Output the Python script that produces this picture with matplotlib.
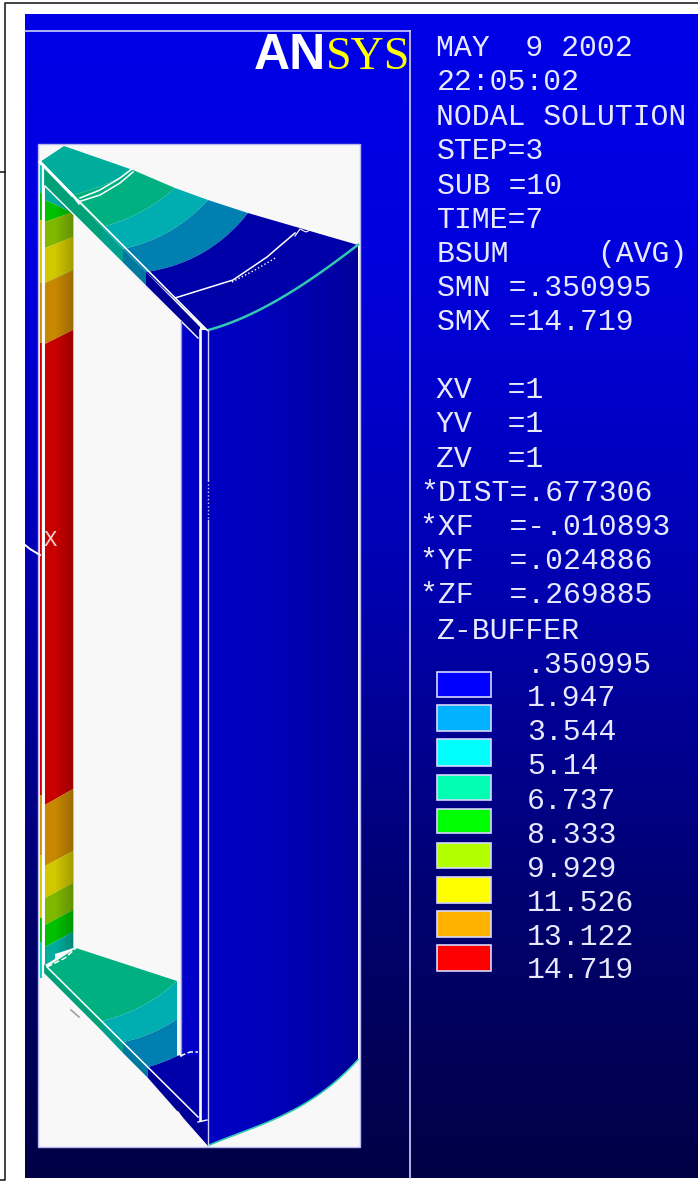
import matplotlib
matplotlib.use("Agg")
import matplotlib.pyplot as plt
import numpy as np

W, H = 698, 1181

# ---- legend / text data
legend_values = [".350995", "1.947", "3.544", "5.14", "6.737", "8.333", "9.929", "11.526", "13.122", "14.719"]
legend_colors = ["#0000ff", "#00b2ff", "#00ffff", "#00ffb2", "#00ff00", "#b2ff00", "#ffff00", "#ffb200", "#ff0000"]
legend_top = [672, 705, 739, 775, 809, 843, 877, 911, 945]
legend_bot = [697, 731, 766, 800, 833, 868, 903, 937, 971]
value_rows = [665, 698, 732, 766, 801, 835, 869, 903, 937, 970]

info_lines = ["MAY  9 2002", "22:05:02", "NODAL SOLUTION", "STEP=3", "SUB =10", "TIME=7", "BSUM     (AVG)",
              "SMN =.350995", "SMX =14.719", "XV  =1", "YV  =1", "ZV  =1",
              "*DIST=.677306", "*XF  =-.010893", "*YF  =.024886", "*ZF  =.269885", "Z-BUFFER"]
info_rows = [48, 82, 117, 151, 186, 220, 254, 288, 322, 390, 424, 459, 493, 527, 561, 595, 631]
info_x = [436, 437, 436, 437, 437, 437, 437, 437, 437, 436, 436, 436, 420, 420, 420, 420, 437]

# ---- contour bands of the left column: y at its left and right side
col_colors = ["#00ad9c", "#00c000", "#80b800", "#d0c800", "#c88800", "#c80000",
              "#c88800", "#d0c800", "#80b800", "#00c000", "#00ad9c"]
col_left = [187, 200, 222, 248, 283, 344, 805, 866, 898, 925, 947, 965]
col_right = [213, 213, 212, 237, 270, 330, 789, 851, 883, 910, 932, 948]

# thin strip left of the column
thin_colors = ["#00c8b0", "#00c000", "#d0c800", "#d09000", "#d00000", "#d09000", "#d0c800", "#00c000", "#00d0c0"]
thin_y = [165, 193, 220, 283, 343, 795, 855, 918, 942, 978]

# top plate fan: contour lines run from the top edge to the front edge
top_colors = ["#00ad9c", "#00b080", "#00adb0", "#0080b0", "#0000a8"]
top_outer = [(64, 146), (133, 170), (175, 188), (208, 200), (248, 213), (358, 245)]
top_inner = [(40, 162), (72, 195), (102, 227), (123, 249), (146, 272), (207, 330)]
top_bow = [0.0, 0.08, 0.12, 0.16, 0.2, 0.17]

# bevel strip under the top plate
strip_colors = ["#00a078", "#00a090", "#0078a0", "#000098"]
strip_x = [44, 102, 123, 146, 200]
strip_up = [166, 227, 249, 272, 327]
strip_lo = [186, 243, 264, 287, 340]

# bottom plate
bot_colors = ["#00b080", "#00adb0", "#0080b0", "#0000a8"]
bot_outer = [(76, 948), (177, 981), (177, 1019), (177, 1056), (198, 1050)]
bot_inner = [(47, 967), (102, 1021), (123, 1042), (148, 1067), (198, 1117)]
bot_bow = [0.0, 0.13, 0.1, 0.05, 0.0]

low_x = [44, 102, 123, 148, 208]
low_up = [964, 1021, 1042, 1067, 1127]
low_lo = [973, 1031, 1053, 1078, 1146]

# body outline
arc_top_x = [208, 225, 245, 267, 290, 312, 333, 347, 358]
arc_top_y = [330, 325, 317, 305, 293, 279, 263, 253, 245]
arc_bot_x = [208, 233, 260, 287, 312, 333, 348, 358]
arc_bot_y = [1145, 1137, 1125, 1112, 1099, 1085, 1070, 1059]

# background blue level down the picture
bg_y = [14, 250, 600, 900, 1178]
bg_b = [0.91, 0.87, 0.68, 0.44, 0.27]

fig = plt.figure(figsize=(W / 100, H / 100), dpi=100)
ax = fig.add_axes([0, 0, 1, 1])

rows = np.arange(14, 1178, 4)
grad = np.zeros((len(rows), 1, 3))
grad[:, 0, 2] = np.interp(rows, bg_y, bg_b)
ax.imshow(grad, extent=[25, W, 1178, 14], aspect="auto", zorder=0, interpolation="bilinear")

LINE = "#d0d0ff"
ax.plot([25, 410], [31, 31], color=LINE, lw=1.2, zorder=2)
ax.plot([409.5, 409.5], [31, 1178], color=LINE, lw=1.2, zorder=2)

# outer black frame
ax.plot([698, 4.5, 4.5, 0], [2.5, 2.5, 172, 172], color="#222222", lw=1.2, zorder=2)
ax.plot([0, 5, 5], [1179.5, 1179.5, 172], color="#222222", lw=1.2, zorder=2)

# white panel
ax.fill([38, 360, 360, 38], [144, 144, 1147, 1147], facecolor="#f8f8f8", edgecolor="#b8b8f0", lw=1, zorder=1)


def band(xs, ys, color, z=3):
    ax.fill(xs, ys, color=color, lw=0, zorder=z)


def bow(p, q, amount):
    # contour line between two points, bowed toward the far end of the fan
    p = np.array(p, float)
    q = np.array(q, float)
    t = np.linspace(0, 1, 24)
    n = np.array([q[1] - p[1], p[0] - q[0]])
    pts = p + (q - p) * t[:, None] + n * (amount * 2 * t * (1 - t))[:, None]
    return list(pts[:, 0]), list(pts[:, 1])


def smooth(xs, ys):
    # round off the read points so the arc does not look like a polygon
    dense = np.linspace(xs[0], xs[-1], 60)
    return list(dense), list(np.polyval(np.polyfit(xs, ys, 3), dense))


# left column
for i, c in enumerate(col_colors):
    band([45, 73, 73, 45], [col_left[i], col_right[i], col_right[i + 1], col_left[i + 1]], c)
dark = np.zeros((1, 64, 4))
dark[0, :, 3] = np.linspace(0, 0.22, 64)
ax.imshow(dark, extent=[55, 73.5, 968, 185], aspect="auto", zorder=3.5)
# panel colour back over the corners of that shading
band([55, 73.5, 73.5, 55], [180, 180, 213, 197], "#f8f8f8", z=3.6)
band([55, 73.5, 73.5, 55], [968, 968, 948, 954], "#f8f8f8", z=3.6)
for i, c in enumerate(thin_colors):
    band([39.5, 41.5, 41.5, 39.5], [thin_y[i], thin_y[i], thin_y[i + 1], thin_y[i + 1]], c)

# top plate
for i, c in enumerate(top_colors):
    x1, y1 = bow(top_outer[i], top_inner[i], top_bow[i])
    x2, y2 = bow(top_outer[i + 1], top_inner[i + 1], top_bow[i + 1])
    band(x1 + x2[::-1], y1 + y2[::-1], c, z=3.7)
for i, c in enumerate(strip_colors):
    band([strip_x[i], strip_x[i + 1], strip_x[i + 1], strip_x[i]],
         [strip_up[i], strip_up[i + 1], strip_lo[i + 1], strip_lo[i]], c, z=4)

# inner column and body
band([181, 200, 200, 181], [321, 340, 1056, 1056], "#0000c8", z=3.8)
band([198, 208, 208, 198], [330, 330, 1146, 1117], "#0000b8", z=3.9)
body = np.zeros((1, 128, 3))
body[0, :, 2] = 0.77 - 0.17 * np.linspace(0, 1, 128) ** 1.5
im = ax.imshow(body, extent=[207, 359, 1150, 240], aspect="auto", zorder=4, interpolation="bilinear")
top_x, top_y = smooth(arc_top_x, arc_top_y)
low_arc_x, low_arc_y = smooth(arc_bot_x, arc_bot_y)
patch = ax.fill(top_x + low_arc_x[::-1], top_y + low_arc_y[::-1], color="none", lw=0, zorder=3)[0]
im.set_clip_path(patch)
ax.plot(top_x, top_y, color="#30c8b0", lw=1.8, zorder=5)
ax.plot(low_arc_x, low_arc_y, color="#30c8b0", lw=1.2, zorder=5)

# bottom plate
for i, c in enumerate(bot_colors):
    x1, y1 = bow(bot_outer[i], bot_inner[i], bot_bow[i])
    x2, y2 = bow(bot_outer[i + 1], bot_inner[i + 1], bot_bow[i + 1])
    band(x1 + x2[::-1], y1 + y2[::-1], c, z=3.7)
for i, c in enumerate(strip_colors):
    band([low_x[i], low_x[i + 1], low_x[i + 1], low_x[i]],
         [low_up[i], low_up[i + 1], low_lo[i + 1], low_lo[i]], c, z=4)

# white edge lines
edge_x = [[40, 207], [45, 198], [199.5, 199.5], [42.5, 42.5], [47, 198], [198, 207]]
edge_y = [[162, 330], [186, 338], [330, 1120], [165, 975], [967, 1117], [1122, 1120]]
edge_w = [1.2, 1.0, 1.9, 1.6, 1.1, 1.0]
for xs, ys, w in zip(edge_x, edge_y, edge_w):
    ax.plot(xs, ys, color="white", lw=w, zorder=6)
ax.plot([40, 72], [162, 195], color="white", lw=2.2, zorder=6)
ax.plot([181, 181], [321, 1056], color="#9090f0", lw=1, zorder=6)
ax.plot([207.5, 207.5], [330, 480], color=LINE, lw=1, zorder=6)
ax.plot([207.5, 207.5], [480, 520], color=LINE, lw=1, ls=":", zorder=6)
ax.plot([207.5, 207.5], [520, 1145], color=LINE, lw=1, zorder=6)

# mesh arcs
ax.plot([78, 100, 120, 133], [202, 195, 183, 172], color="white", lw=1.1, zorder=6)
ax.plot([80, 100, 120, 133], [198, 190, 178, 168], color="white", lw=1.1, zorder=6)
ax.plot([72, 79], [195, 204], color="white", lw=1.1, zorder=6)
ax.plot([175, 233, 267, 295], [298, 280, 257, 233], color="white", lw=1.1, zorder=6)
ax.plot([232, 255, 277], [282, 270, 257], color="white", lw=1, ls=":", zorder=6)
ax.plot([295, 300, 306, 312, 320], [236, 229, 232, 229, 233], color="white", lw=0.8, zorder=6)
ax.plot([47, 65, 76], [967, 958, 948], color="white", lw=1.1, ls="--", zorder=6)
ax.plot([180, 190, 198], [1056, 1052, 1052], color="white", lw=1.1, ls="--", zorder=6)
ax.plot([71, 79], [1010, 1017], color="#a0a0a0", lw=1.2, zorder=6)
ax.plot([178, 182], [1112, 1118], color="white", lw=1, zorder=6)

# legend
for i, c in enumerate(legend_colors):
    ax.fill([437, 491, 491, 437], [legend_top[i], legend_top[i], legend_bot[i], legend_bot[i]],
            facecolor=c, edgecolor="#d8d8ff", lw=1.2, zorder=3)

FONT = "Liberation Mono"
TXT = "#e8e8ff"
for s, y, x in zip(info_lines, info_rows, info_x):
    ax.text(x, y, s, family=FONT, fontsize=21.5, color=TXT, va="center", ha="left", zorder=7)
for s, y in zip(legend_values, value_rows):
    ax.text(527, y, s, family=FONT, fontsize=21.5, color=TXT, va="center", ha="left", zorder=7)

ax.text(254, 69, "AN", family="Liberation Sans", weight="bold", fontsize=36, color="white", va="baseline", ha="left", zorder=7)
ax.text(326, 69, "SYS", family="Liberation Serif", fontsize=33, color="#ffff00", va="baseline", ha="left", zorder=7)

ax.text(50, 540, "X", family=FONT, fontsize=16, color="#f0d0d0", va="center", ha="center", zorder=7)
ax.plot([25, 30, 40], [545, 549, 555], color="white", lw=1.4, zorder=7)

ax.set_xlim(0, W)
ax.set_ylim(H, 0)
ax.axis("off")

fig.savefig("out.png", dpi=100)
